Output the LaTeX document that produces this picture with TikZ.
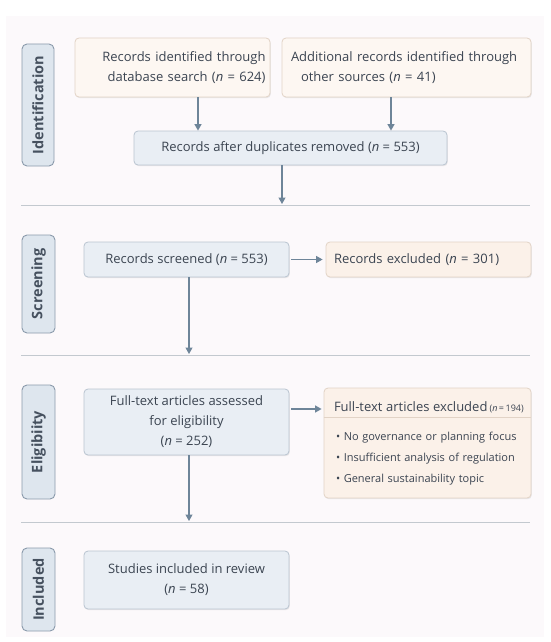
\documentclass[tikz,border=0pt]{standalone}
\usepackage{fontspec}
\setmainfont{Open Sans}
\usetikzlibrary{arrows.meta,calc,shadows}
\definecolor{txt}{HTML}{3B4451}
\definecolor{labtxt}{HTML}{46515F}
\definecolor{panel}{HTML}{FCF9FB}
\definecolor{bluefill}{HTML}{E9EEF4}
\definecolor{blueline}{HTML}{B9C4D0}
\definecolor{peachfill}{HTML}{FBF1E9}
\definecolor{peachline}{HTML}{E2D3C6}
\definecolor{labfill}{HTML}{DEE6EE}
\definecolor{labline}{HTML}{8A9AAB}
\definecolor{arrcol}{HTML}{6E8599}
\definecolor{sepcol}{HTML}{C3C9CF}
\begin{document}
\begin{tikzpicture}[x=1pt,y=-1pt,
  every node/.style={text=txt, font=\fontsize{13}{20}\selectfont},
  basebox/.style={rectangle, rounded corners=4pt, line width=0.8pt, inner sep=0pt, align=center,
    drop shadow={shadow xshift=0.8pt, shadow yshift=-1.2pt, opacity=0.12, fill=black!60}},
  bluebox/.style={basebox, fill=bluefill, draw=blueline},
  peachbox/.style={basebox, fill=peachfill, draw=peachline},
  stagebox/.style={rectangle, rounded corners=5pt, fill=labfill, draw=labline, line width=0.9pt,
    rotate=90, inner sep=0pt, font=\fontsize{14.5}{18}\selectfont\bfseries, text=labtxt},
  arr/.style={draw=arrcol, line width=1.2pt, -{Triangle[width=7pt,length=6.5pt]}},
  sepline/.style={draw=sepcol, line width=1pt}]
\useasboundingbox (0,0) rectangle (550,642);
\fill[white] (0,0) rectangle (550,642);
\fill[panel] (6,16) rectangle (544,637);

% stage labels
\node[stagebox, minimum width=122pt, minimum height=32pt] (lab1) at (38,105) {Identification};
\node[stagebox, minimum width=98pt, minimum height=33pt] (lab2) at (38.5,284) {Screening};
\node[stagebox, minimum width=114pt, minimum height=33pt] (lab3) at (38.5,442) {Eligibiity};
\node[stagebox, minimum width=83pt, minimum height=33pt] (lab4) at (38.5,589.5) {Included};

% identification
\node[peachbox, fill=peachfill!60!white, minimum width=195pt, minimum height=59pt, text width=186pt, align=right] (b1) at (172.5,67.5)
  {Records identified through\\database search (\textit{n} = 624)};
\node[peachbox, fill=peachfill!60!white, minimum width=249pt, minimum height=59pt, text width=231pt, align=left] (b2) at (406.5,67.5)
  {Additional records identified through\\\hspace*{10pt}other sources (\textit{n} = 41)};
\node[bluebox, minimum width=313pt, minimum height=34pt] (dup) at (290.5,148)
  {Records after duplicates removed (\textit{n} = 553)};

% separators
\coordinate (L1w) at (21,205); \coordinate (L1e) at (530,205);
\coordinate (L2w) at (21,355); \coordinate (L2e) at (530,355);
\coordinate (L3w) at (21,522); \coordinate (L3e) at (530,522);
\draw[sepline] (L1w) -- (L1e);
\draw[sepline] (L2w) -- (L2e);
\draw[sepline] (L3w) -- (L3e);

% screening
\node[bluebox, minimum width=205pt, minimum height=35pt] (scr) at (186.5,259.5)
  {Records screened (\textit{n} = 553)};
\node[peachbox, minimum width=205pt, minimum height=35pt, text width=189pt, align=left] (exc) at (428.5,259.5)
  {Records excluded (\textit{n} = 301)};

% eligibility
\node[bluebox, minimum width=205pt, minimum height=66pt] (ft) at (186.5,422)
  {Full-text articles assessed\\for eligibility\\(\textit{n} = 252)};
\node[peachbox, minimum width=207pt, minimum height=110pt, text width=199pt, align=left,
      font=\fontsize{11}{21}\selectfont] (exc2) at (427.5,443)
  {\mbox{\fontsize{13}{20}\selectfont\hspace*{6pt}Full-text articles excluded\,{\fontsize{9}{12}\selectfont(\textit{n}\,=\,194)}}\\[8pt]
   \mbox{\hspace*{8pt}• No governance or planning focus}\\
   \mbox{\hspace*{8pt}• Insufficient analysis of regulation}\\
   \mbox{\hspace*{8pt}• General sustainability topic}};
\draw[draw=peachline, line width=0.8pt] ($(exc2.north west)!0.265!(exc2.south west)$) -- ($(exc2.north east)!0.265!(exc2.south east)$);

% included
\node[bluebox, minimum width=205pt, minimum height=58pt] (inc) at (186.5,580)
  {Studies included in review\\(\textit{n} = 58)};

% connectors
\coordinate (a1) at ([xshift=25.5pt]b1.south);
\draw[arr] (a1) -- (a1 |- dup.north);
\coordinate (a2) at ([xshift=-15.5pt]b2.south);
\draw[arr] (a2) -- (a2 |- dup.north);
\coordinate (a3) at ([xshift=-8.5pt]dup.south);
\draw[arr] (a3) -- ([yshift=1pt]a3 |- L1w);
\draw[arr, shorten <=2pt, shorten >=3pt] (scr.east) -- (exc.west);
\coordinate (a4) at ([xshift=2.5pt]scr.south);
\draw[arr] (a4) -- ([yshift=1pt]a4 |- L2w);
\coordinate (a5) at ([yshift=13pt]ft.east);
\draw[arr, shorten <=2pt, shorten >=2pt] (a5) -- (a5 -| exc2.west);
\coordinate (a6) at ([xshift=2.5pt]ft.south);
\draw[arr] (a6) -- ([yshift=1pt]a6 |- L3w);
\end{tikzpicture}
\end{document}
